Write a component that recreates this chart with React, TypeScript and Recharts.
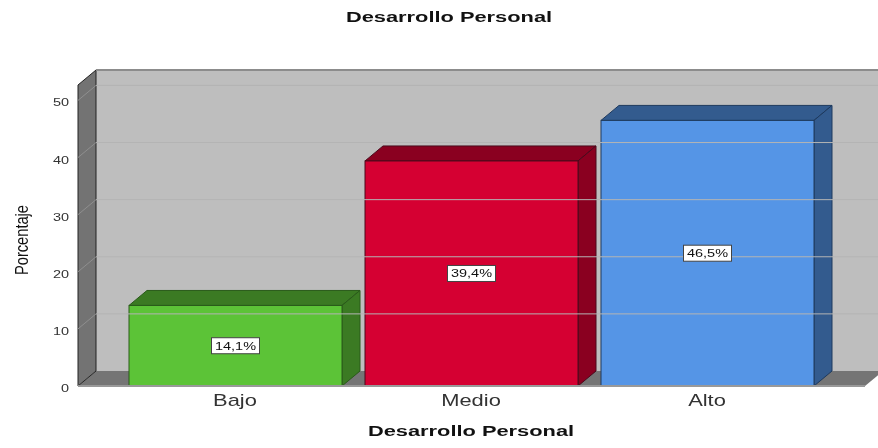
import { BarChart, Bar, XAxis, YAxis, ReferenceArea, ReferenceLine, LabelList, Cell } from 'recharts';

const categories = ['Bajo', 'Medio', 'Alto'];
const percentages = [14.1, 39.4, 46.5];
const yTicks = [0, 10, 20, 30, 40, 50];
const faceColors = ['#5CC337', '#D50032', '#5595E6'];
const shadeColors = ['#3B7A23', '#8A0020', '#335B8E'];
const edgeColors = ['#2A5A1A', '#4A0A1C', '#1E3A5E'];

const chartData = categories.map((name, i) => ({ name, value: percentages[i] }));

// how far the 3D box is pushed back, in px
const DX = 18;
const DY = 15;
const Y_MAX = 52.7;
const PAD_LEFT = 39;
const PAD_RIGHT = 40;

// the reference text is stretched sideways, so scale it the same way
function WideText({ x, y, sx, size, bold, color = '#111', anchor = 'middle', children }: any) {
  return (
    <text
      transform={`translate(${x} ${y}) scale(${sx} 1)`}
      textAnchor={anchor}
      fontFamily="Liberation Sans"
      fontWeight={bold ? 'bold' : 'normal'}
      fontSize={size}
      fill={color}
    >
      {children}
    </text>
  );
}

function CategoryTick({ x, y, payload }: any) {
  return (
    <WideText x={x} y={y + 10} sx={1.37} size={16} color="#333">
      {payload.value}
    </WideText>
  );
}

function ValueTick({ x, y, payload }: any) {
  return (
    <WideText x={69} y={y + 6} sx={1.45} size={10} color="#333" anchor="end">
      {payload.value}
    </WideText>
  );
}

function Walls({ x, y, width, height }: any) {
  // the area only spans the padded band range, widen it back to the whole plot
  const left = x - PAD_LEFT;
  const w = width + PAD_LEFT + PAD_RIGHT;
  const bottom = y + height;
  return (
    <g>
      <rect x={left + DX} y={y - DY} width={w} height={height} fill="#BEBEBE" />
      <polygon
        points={`${left},${bottom} ${left + w},${bottom} ${left + w + DX},${bottom - DY} ${left + DX},${bottom - DY}`}
        fill="#757575"
      />
      <polygon
        points={`${left},${y} ${left + DX},${y - DY} ${left + DX},${bottom - DY} ${left},${bottom}`}
        fill="#737373"
        stroke="#222"
        strokeWidth={1}
      />
      <line x1={left + DX} y1={y - DY} x2={left + w + DX} y2={y - DY} stroke="#8C8C8C" strokeWidth={2} />
    </g>
  );
}

function GridLine(props: any) {
  const { x1, x2, y1 } = props;
  return (
    <g>
      <line x1={x1} y1={y1} x2={x1 + DX} y2={y1 - DY} stroke="#8F8F8F" />
      <line x1={x1 + DX} y1={y1 - DY} x2={x2 + DX} y2={y1 - DY} stroke="#B4B4B4" />
    </g>
  );
}

function Box3D({ x, y, width, height, index }: any) {
  const face = faceColors[index];
  const shade = shadeColors[index];
  const edge = edgeColors[index];
  const right = x + width;
  const bottom = y + height;
  return (
    <g stroke={edge} strokeWidth={1}>
      <polygon points={`${x},${y} ${x + DX},${y - DY} ${right + DX},${y - DY} ${right},${y}`} fill={shade} />
      <polygon points={`${right},${y} ${right + DX},${y - DY} ${right + DX},${bottom - DY} ${right},${bottom}`} fill={shade} />
      <rect x={x} y={y} width={width} height={height} fill={face} />
    </g>
  );
}

function ValueTag({ x, y, width, height, value }: any) {
  const cx = x + width / 2;
  const cy = y + height / 2;
  return (
    <g>
      <rect x={cx - 24} y={cy - 8} width={48} height={16} fill="#FFFFFF" stroke="#444" strokeWidth={1} />
      <WideText x={cx} y={cy + 4} sx={1.45} size={10}>
        {`${String(value).replace('.', ',')}%`}
      </WideText>
    </g>
  );
}

export default function App() {
  return (
    <div style={{ position: 'absolute', left: 0, top: 0, width: 878, height: 448, overflow: 'hidden', filter: 'blur(0.4px)' }}>
      <BarChart
        width={878}
        height={448}
        data={chartData}
        margin={{ top: 85, right: 13, bottom: 0, left: 0 }}
        barSize={213}
      >
        <XAxis
          dataKey="name"
          height={62}
          padding={{ left: PAD_LEFT, right: PAD_RIGHT }}
          tickLine={false}
          axisLine={{ stroke: '#999999', strokeWidth: 2 }}
          tick={<CategoryTick />}
          tickMargin={4}
        />
        <YAxis
          width={78}
          type="number"
          domain={[0, Y_MAX]}
          ticks={yTicks}
          allowDataOverflow
          tickLine={false}
          axisLine={false}
          tick={<ValueTick />}
        />
        <ReferenceArea y1={0} y2={Y_MAX} shape={<Walls />} ifOverflow="visible" />
        {yTicks.slice(1).map((t) => (
          <ReferenceLine key={t} y={t} shape={<GridLine />} ifOverflow="visible" />
        ))}
        <Bar dataKey="value" shape={<Box3D />} isAnimationActive={false}>
          {chartData.map((d) => (
            <Cell key={d.name} />
          ))}
          <LabelList dataKey="value" content={<ValueTag />} />
        </Bar>
        <WideText x={449} y={22} sx={1.56} size={14} bold>
          Desarrollo Personal
        </WideText>
        <WideText x={471} y={436} sx={1.56} size={14} bold>
          Desarrollo Personal
        </WideText>
        <text
          transform="translate(28 240) rotate(-90)"
          textAnchor="middle"
          fontFamily="Liberation Sans"
          fontSize={18}
          textLength={70}
          lengthAdjust="spacingAndGlyphs"
          fill="#111"
        >
          Porcentaje
        </text>
      </BarChart>
    </div>
  );
}
